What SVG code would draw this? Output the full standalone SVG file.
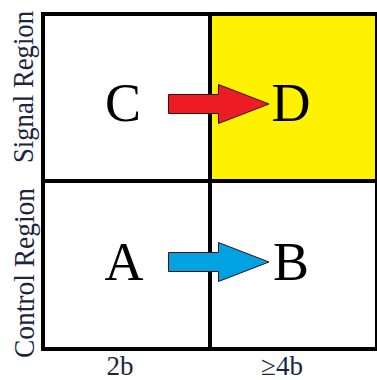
<svg xmlns="http://www.w3.org/2000/svg" width="377" height="380" viewBox="0 0 377 380">
<style>
.cell{stroke:#000;stroke-width:4}
.big{font-family:"Liberation Serif","Times New Roman",serif;font-size:54px;fill:#000;text-anchor:middle}
.lab{font-family:"Liberation Serif","Times New Roman",serif;font-size:27px;fill:#1c2540;text-anchor:middle}
.vl{font-size:30px}
.arr{stroke:#3a1010;stroke-width:1}
</style>
<rect width="377" height="380" fill="#fff"/>
<g id="C"><rect class="cell" x="43" y="14" width="167" height="167" fill="#fff"/><text class="big" x="123" y="121">C</text></g>
<g id="D"><rect class="cell" x="210" y="14" width="167" height="167" fill="#fff200"/><text class="big" x="291" y="121">D</text></g>
<g id="A"><rect class="cell" x="43" y="181" width="167" height="168" fill="#fff"/><text class="big" x="124" y="280">A</text></g>
<g id="B"><rect class="cell" x="210" y="181" width="167" height="168" fill="#fff"/><text class="big" x="291" y="280">B</text></g>
<g id="connectors">
<polygon class="arr" fill="#ed1c24" points="168.5,94.5 218.5,94.5 218.5,84.5 269,104 218.5,123.5 218.5,113.5 168.5,113.5"/>
<polygon class="arr" fill="#00a2e2" stroke="#0a3a55" points="168.5,252.5 218.5,252.5 218.5,242.5 269,262 218.5,281.5 218.5,271.5 168.5,271.5"/>
</g>
<g id="labels">
<text class="lab vl" transform="translate(33,87) rotate(-90)" textLength="152" lengthAdjust="spacingAndGlyphs">Signal Region</text>
<text class="lab vl" transform="translate(34,273) rotate(-90)" textLength="170" lengthAdjust="spacingAndGlyphs">Control Region</text>
<text class="lab" x="120" y="375">2b</text>
<text class="lab" x="282" y="375">≥4b</text>
</g>
</svg>
